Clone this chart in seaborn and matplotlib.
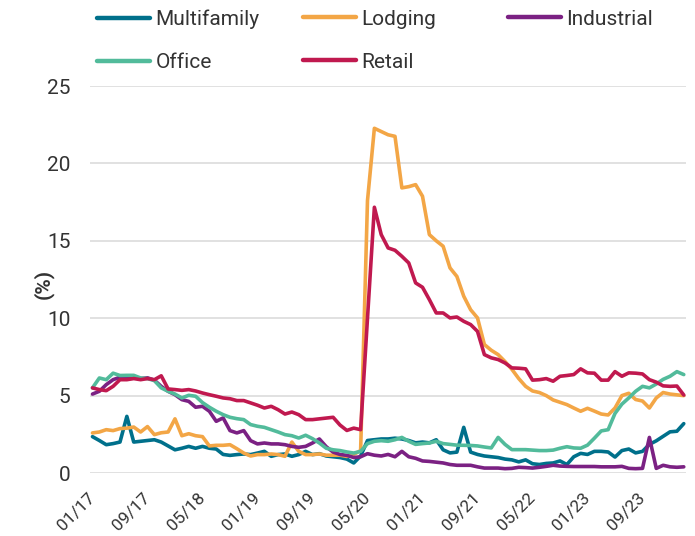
import numpy as np
import pandas as pd
import matplotlib
matplotlib.use('Agg')
import matplotlib.pyplot as plt
import matplotlib.transforms as mtransforms
import seaborn as sns
from matplotlib.lines import Line2D

# monthly rates (%), 01/17 .. 03/24
months = pd.date_range('2017-01-01', '2024-03-01', freq='MS').strftime('%m/%y').tolist()
tick_labels = ['01/17', '09/17', '05/18', '01/19', '09/19', '05/20',
               '01/21', '09/21', '05/22', '01/23', '09/23']

multifamily = [2.35, 2.1, 1.83, 1.9, 2.0, 3.66, 2.0, 2.05, 2.1, 2.15, 2.0, 1.75, 1.5, 1.6, 1.72, 1.6,
               1.72, 1.6, 1.55, 1.2, 1.14, 1.19, 1.23, 1.19, 1.29, 1.4, 1.08, 1.19, 1.23, 1.08, 1.19, 1.4,
               1.19, 1.25, 1.1, 1.05, 1.0, 0.9, 0.65, 1.1, 2.1, 2.15, 2.2, 2.2, 2.25, 2.2, 2.1, 1.95,
               2.0, 1.95, 2.15, 1.5, 1.3, 1.35, 2.95, 1.35, 1.2, 1.1, 1.05, 1.0, 0.9, 0.85, 0.72, 0.85,
               0.6, 0.55, 0.62, 0.65, 0.78, 0.55, 1.05, 1.27, 1.2, 1.4, 1.4, 1.36, 1.03, 1.45, 1.55, 1.3,
               1.4, 1.85, 2.08, 2.37, 2.66, 2.7, 3.19]
lodging = [2.59, 2.65, 2.8, 2.74, 2.87, 2.9, 2.97, 2.65, 3.0, 2.48, 2.6, 2.65, 3.5, 2.41, 2.54, 2.41,
           2.35, 1.75, 1.79, 1.79, 1.83, 1.57, 1.29, 1.1, 1.19, 1.19, 1.23, 1.19, 1.08, 2.0, 1.4, 1.19,
           1.19, 1.23, 1.15, 1.15, 1.15, 1.07, 1.2, 1.45, 17.6, 22.27, 22.06, 21.85, 21.75, 18.42, 18.5, 18.63,
           17.88, 15.4, 15.0, 14.65, 13.25, 12.7, 11.42, 10.55, 10.02, 8.3, 7.93, 7.65, 7.2, 6.7, 6.1, 5.6,
           5.3, 5.2, 5.0, 4.72, 4.57, 4.42, 4.2, 3.99, 4.18, 4.0, 3.81, 3.75, 4.2, 5.0, 5.15, 4.75,
           4.65, 4.2, 4.85, 5.2, 5.1, 5.05, 5.0]
industrial = [5.1, 5.28, 5.71, 6.03, 6.19, 6.2, 6.15, 6.1, 6.15, 6.0, 5.6, 5.28, 5.06, 4.74, 4.63, 4.25,
              4.31, 3.99, 3.34, 3.56, 2.74, 2.59, 2.74, 2.09, 1.88, 1.94, 1.88, 1.88, 1.83, 1.72, 1.66, 1.72,
              1.94, 2.2, 1.7, 1.35, 1.2, 1.14, 1.0, 1.05, 1.25, 1.15, 1.1, 1.2, 1.05, 1.4, 1.05, 0.95,
              0.78, 0.75, 0.7, 0.65, 0.55, 0.5, 0.5, 0.5, 0.4, 0.32, 0.32, 0.32, 0.28, 0.3, 0.37, 0.35,
              0.32, 0.37, 0.43, 0.5, 0.45, 0.43, 0.42, 0.42, 0.42, 0.42, 0.4, 0.4, 0.4, 0.43, 0.3, 0.28,
              0.3, 2.3, 0.3, 0.5, 0.4, 0.37, 0.4]
office = [5.5, 6.14, 6.03, 6.45, 6.3, 6.31, 6.31, 6.14, 6.1, 5.97, 5.5, 5.28, 5.1, 4.85, 5.02, 4.96,
          4.55, 4.25, 3.99, 3.77, 3.6, 3.51, 3.45, 3.13, 3.02, 2.95, 2.8, 2.65, 2.48, 2.41, 2.26, 2.44,
          2.22, 1.94, 1.6, 1.5, 1.45, 1.36, 1.29, 1.4, 1.9, 2.05, 2.09, 2.05, 2.15, 2.3, 2.05, 1.85,
          1.9, 1.94, 2.05, 1.9, 1.85, 1.8, 1.79, 1.78, 1.75, 1.68, 1.62, 2.3, 1.85, 1.51, 1.51, 1.51,
          1.48, 1.45, 1.45, 1.48, 1.6, 1.7, 1.62, 1.6, 1.8, 2.25, 2.72, 2.8, 3.85, 4.45, 4.85, 5.28,
          5.6, 5.5, 5.75, 6.05, 6.25, 6.55, 6.36]
retail = [5.5, 5.39, 5.32, 5.6, 6.03, 6.03, 6.1, 6.03, 6.1, 6.03, 6.28, 5.43, 5.39, 5.34, 5.39, 5.3,
          5.17, 5.06, 4.96, 4.85, 4.8, 4.68, 4.68, 4.53, 4.38, 4.2, 4.31, 4.09, 3.81, 3.94, 3.77, 3.45,
          3.45, 3.5, 3.55, 3.6, 3.1, 2.75, 2.9, 2.8, 10.0, 17.17, 15.4, 14.54, 14.39, 14.0, 13.57, 12.28,
          12.0, 11.2, 10.34, 10.34, 10.02, 10.08, 9.8, 9.59, 9.15, 7.65, 7.44, 7.33, 7.11, 6.79, 6.77, 6.73,
          6.0, 6.03, 6.1, 5.93, 6.25, 6.3, 6.36, 6.73, 6.47, 6.45, 6.0, 6.0, 6.55, 6.25, 6.47, 6.45,
          6.4, 6.03, 5.87, 5.63, 5.6, 5.62, 5.04]

series = ['Multifamily', 'Lodging', 'Industrial', 'Office', 'Retail']
colors = {'Multifamily': '#00708b', 'Lodging': '#f3a646', 'Industrial': '#7b2183',
          'Office': '#52bb9b', 'Retail': '#c0194f'}

df = pd.DataFrame({'idx': range(len(months)), 'month': months,
                   'Multifamily': multifamily, 'Lodging': lodging, 'Industrial': industrial,
                   'Office': office, 'Retail': retail})
long = df.melt(id_vars=['idx', 'month'], value_vars=series, var_name='type', value_name='rate')

sns.set_style('white')
plt.rcParams['font.family'] = ['Roboto', 'DejaVu Sans']
txt = '#333333'

fig = plt.figure(figsize=(6.95, 5.36), dpi=100)
ax = fig.add_axes([0.1295, 0.1175, 0.8576, 0.722])

sns.lineplot(data=long, x='idx', y='rate', hue='type', hue_order=series, palette=colors,
             linewidth=2.6, sort=False, legend=False, ax=ax)

ax.set_ylim(0, 25)
ax.set_xlim(-0.36, 86.33)
ax.set_yticks([0, 5, 10, 15, 20, 25])
ax.set_yticklabels(['0', '5', '10', '15', '20', '25'], fontsize=15, color=txt)
ax.set_xticks([months.index(t) for t in tick_labels])
ax.set_xticklabels(tick_labels, fontsize=12.5, color=txt, rotation=45,
                   ha='right', va='center', rotation_mode='anchor')
shift = mtransforms.ScaledTranslation(0.045, 0, fig.dpi_scale_trans)
for lab in ax.get_xticklabels():
    lab.set_transform(lab.get_transform() + shift)
ax.tick_params(axis='y', length=0, pad=14)
ax.tick_params(axis='x', length=0, pad=16)
ax.yaxis.grid(True, color='#dcdcdc', linewidth=1.2)
ax.xaxis.grid(False)
ax.set_axisbelow(True)
sns.despine(ax=ax, left=True, bottom=True)
ax.set_xlabel('')
ax.set_ylabel('(%)', fontsize=15, fontweight='bold', color=txt)
ax.yaxis.set_label_coords(-0.06, 0.488)

# legend laid out in three fixed-width columns
cols = [(0.1396, ['Multifamily', 'Office']), (0.4360, ['Lodging', 'Retail']), (0.7309, ['Industrial'])]
for xpos, names in cols:
    handles = [Line2D([0], [0], color=colors[n], lw=3.2, solid_capstyle='round') for n in names]
    fig.legend(handles, names, loc='upper left', bbox_to_anchor=(xpos, 0.982), ncol=1,
               frameon=False, fontsize=15, labelcolor=txt, handlelength=2.55,
               handletextpad=0.25, labelspacing=1.15, borderpad=0, borderaxespad=0)

fig.savefig('out.png', dpi=100)
